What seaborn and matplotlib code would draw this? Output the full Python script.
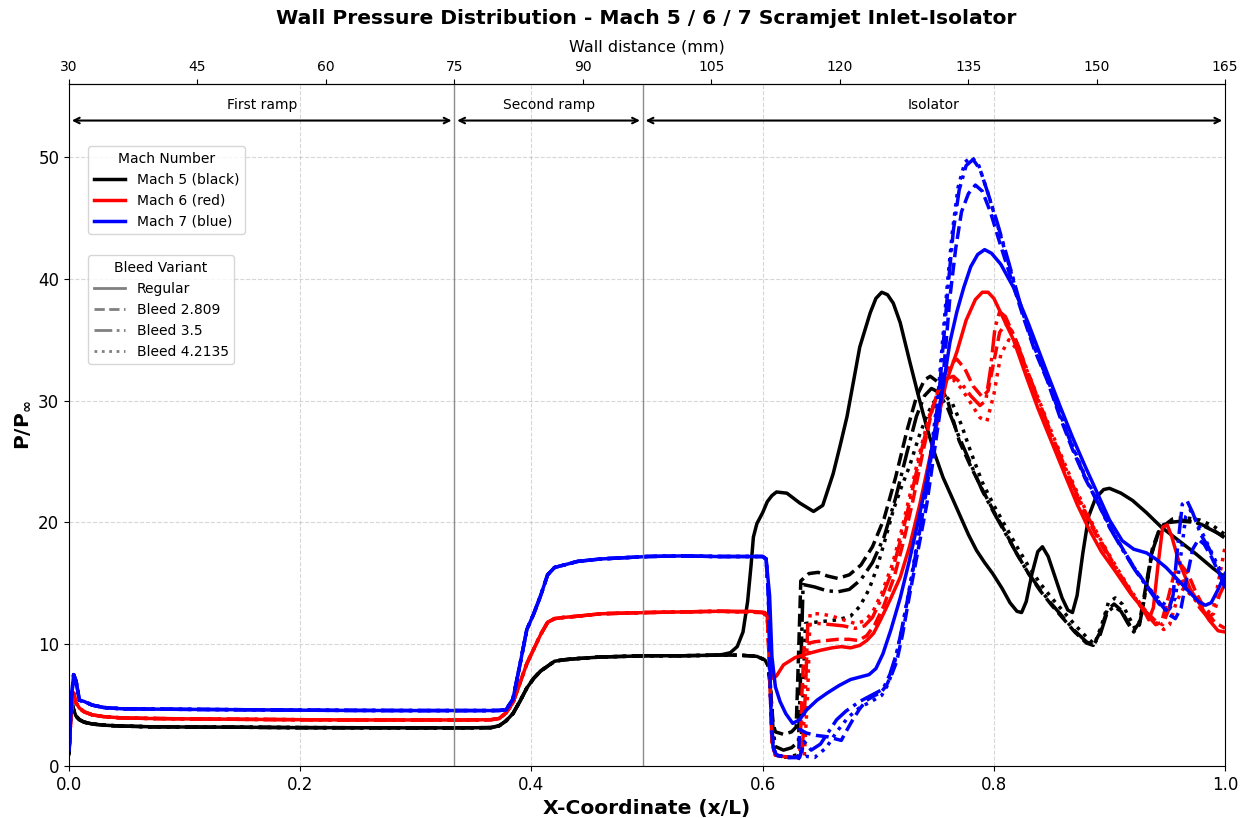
import matplotlib
matplotlib.use("Agg")
import matplotlib.pyplot as plt
import numpy as np
import pandas as pd
import seaborn as sns
from matplotlib.lines import Line2D

# ---------------------------------------------------------------------------
# Labels
# ---------------------------------------------------------------------------
mach_labels = ["Mach 5 (black)", "Mach 6 (red)", "Mach 7 (blue)"]
mach_colors = ["black", "red", "blue"]
variant_labels = ["Regular", "Bleed 2.809", "Bleed 3.5", "Bleed 4.2135"]
top_ticks_mm = [30, 45, 60, 75, 90, 105, 120, 135, 150, 165]
section_names = ["First ramp", "Second ramp", "Isolator"]
section_edges_mm = [30, 75, 97, 165]

# ---------------------------------------------------------------------------
# Inlet ramps (identical for every bleed variant)
# ---------------------------------------------------------------------------
x_ramp = [0.0, 0.002, 0.004, 0.006, 0.009, 0.013, 0.02, 0.03, 0.045, 0.07,
          0.1, 0.15, 0.2, 0.25, 0.3, 0.34, 0.365, 0.372, 0.378, 0.384,
          0.39, 0.396, 0.402, 0.408, 0.414, 0.42, 0.428, 0.44, 0.46, 0.48,
          0.5, 0.53, 0.56]
p_ramp_m5 = [1.0, 5.5, 4.6, 4.1, 3.8, 3.6, 3.45, 3.35, 3.28, 3.22,
             3.2, 3.18, 3.15, 3.14, 3.13, 3.13, 3.15, 3.3, 3.7, 4.3,
             5.3, 6.4, 7.2, 7.8, 8.2, 8.6, 8.72, 8.82, 8.95, 9.0,
             9.05, 9.05, 9.1]
p_ramp_m6 = [1.5, 4.5, 6.0, 5.2, 4.75, 4.45, 4.2, 4.05, 3.95, 3.9,
             3.87, 3.83, 3.8, 3.78, 3.78, 3.78, 3.8, 3.9, 4.35, 5.2,
             6.8, 8.4, 9.6, 10.8, 11.8, 12.1, 12.2, 12.3, 12.5, 12.55,
             12.6, 12.65, 12.7]
p_ramp_m7 = [1.3, 5.5, 7.5, 7.0, 5.4, 5.3, 5.0, 4.8, 4.7, 4.67,
             4.65, 4.62, 4.58, 4.56, 4.55, 4.55, 4.55, 4.56, 4.6, 5.5,
             8.3, 11.2, 12.5, 14.0, 15.7, 16.3, 16.5, 16.8, 17.0, 17.1,
             17.2, 17.25, 17.2]

# ---------------------------------------------------------------------------
# Isolator section - Mach 5
# ---------------------------------------------------------------------------
x_m5_regular = [0.565, 0.572, 0.578, 0.583, 0.587, 0.59, 0.592, 0.595, 0.6, 0.604,
                0.608, 0.612, 0.621, 0.632, 0.644, 0.652, 0.661, 0.667, 0.673, 0.679,
                0.684, 0.693, 0.698, 0.703, 0.708, 0.713, 0.719, 0.727, 0.735, 0.742,
                0.749, 0.756, 0.764, 0.771, 0.778, 0.785, 0.792, 0.799, 0.807, 0.814,
                0.82, 0.824, 0.828, 0.833, 0.838, 0.842, 0.847, 0.853, 0.859, 0.864,
                0.868, 0.872, 0.877, 0.882, 0.888, 0.895, 0.9, 0.91, 0.92, 0.932,
                0.945, 0.96, 0.975, 0.99, 1.0]
p_m5_regular = [9.15, 9.3, 9.8, 11.0, 13.5, 16.5, 18.8, 19.9, 20.8, 21.7,
                22.2, 22.5, 22.4, 21.6, 20.9, 21.4, 24.0, 26.3, 28.7, 31.8,
                34.4, 37.2, 38.4, 38.9, 38.7, 38.0, 36.4, 33.3, 30.3, 27.8,
                25.6, 23.7, 22.0, 20.5, 19.0, 17.7, 16.7, 15.8, 14.6, 13.4,
                12.7, 12.6, 13.5, 15.8, 17.6, 18.0, 17.2, 15.5, 13.8, 12.8,
                12.6, 14.0, 17.5, 20.5, 22.0, 22.7, 22.8, 22.4, 21.8, 20.8,
                19.6, 18.5, 17.4, 16.2, 15.5]

x_m5_b2809 = [0.565, 0.58, 0.595, 0.602, 0.605, 0.607, 0.609, 0.611, 0.618, 0.625,
              0.629, 0.631, 0.633, 0.64, 0.648, 0.656, 0.665, 0.675, 0.685, 0.695,
              0.705, 0.715, 0.725, 0.733, 0.74, 0.745, 0.752, 0.76, 0.77, 0.78,
              0.79, 0.8, 0.81, 0.82, 0.83, 0.84, 0.85, 0.86, 0.87, 0.88,
              0.886, 0.892, 0.898, 0.904, 0.91, 0.916, 0.921, 0.926, 0.931, 0.937,
              0.943, 0.952, 0.962, 0.975, 0.988, 1.0]
p_m5_b2809 = [9.1, 9.1, 9.0, 8.7, 8.2, 6.0, 3.5, 2.8, 2.6, 2.8,
              3.2, 9.0, 15.2, 15.8, 15.9, 15.6, 15.4, 15.7, 16.5, 18.0,
              20.3, 23.7, 27.6, 30.3, 31.7, 32.0, 31.5, 30.0, 26.7, 24.6,
              22.7, 20.9, 19.2, 17.4, 15.8, 14.4, 13.2, 12.1, 11.0, 10.1,
              9.9, 11.0, 12.8, 13.3, 12.8, 11.8, 11.1, 11.8, 14.5, 17.8,
              19.4, 20.1, 20.2, 20.0, 19.5, 18.7]

x_m5_b35 = [0.565, 0.58, 0.595, 0.602, 0.605, 0.607, 0.609, 0.611, 0.618, 0.625,
            0.631, 0.633, 0.635, 0.645, 0.655, 0.665, 0.675, 0.685, 0.695, 0.705,
            0.715, 0.725, 0.733, 0.74, 0.746, 0.752, 0.76, 0.77, 0.78, 0.79,
            0.8, 0.81, 0.82, 0.83, 0.84, 0.85, 0.86, 0.87, 0.88, 0.886,
            0.892, 0.898, 0.904, 0.91, 0.916, 0.921, 0.926, 0.931, 0.937, 0.943,
            0.952, 0.962, 0.975, 0.988, 1.0]
p_m5_b35 = [9.1, 9.1, 9.0, 8.7, 8.2, 6.0, 3.0, 1.6, 1.3, 1.5,
            2.0, 8.0, 14.9, 14.7, 14.4, 14.3, 14.5, 15.3, 16.7, 18.8,
            22.0, 25.8, 28.7, 30.4, 31.0, 30.7, 29.4, 27.0, 24.8, 22.6,
            20.8, 19.1, 17.4, 15.8, 14.5, 13.3, 12.2, 11.1, 10.2, 9.9,
            10.8, 12.6, 13.1, 12.7, 11.7, 11.0, 11.6, 14.2, 17.6, 19.3,
            20.0, 20.1, 20.0, 19.4, 18.8]

x_m5_b42135 = [0.565, 0.58, 0.595, 0.602, 0.605, 0.607, 0.609, 0.611, 0.618, 0.625,
               0.633, 0.635, 0.637, 0.645, 0.655, 0.665, 0.676, 0.684, 0.692, 0.699,
               0.706, 0.713, 0.72, 0.727, 0.735, 0.743, 0.75, 0.757, 0.764, 0.772,
               0.78, 0.79, 0.8, 0.81, 0.82, 0.83, 0.84, 0.85, 0.86, 0.87,
               0.88, 0.887, 0.893, 0.899, 0.905, 0.911, 0.917, 0.922, 0.927, 0.932,
               0.938, 0.945, 0.955, 0.965, 0.978, 0.99, 1.0]
p_m5_b42135 = [9.1, 9.1, 9.0, 8.7, 8.2, 6.0, 2.5, 0.9, 0.7, 0.8,
               1.0, 6.0, 11.7, 11.8, 11.9, 12.0, 12.3, 13.1, 14.5, 16.3,
               18.6, 21.0, 22.9, 24.6, 27.0, 29.0, 30.2, 30.5, 29.8, 28.0,
               25.8, 23.3, 21.4, 19.7, 18.0, 16.4, 15.0, 13.8, 12.7, 11.6,
               10.6, 10.0, 11.5, 13.4, 13.8, 13.3, 12.2, 11.3, 12.0, 14.8,
               18.0, 19.7, 20.3, 20.4, 20.2, 19.7, 19.0]

# ---------------------------------------------------------------------------
# Isolator section - Mach 6
# ---------------------------------------------------------------------------
x_m6_regular = [0.565, 0.59, 0.602, 0.605, 0.607, 0.609, 0.612, 0.618, 0.628, 0.638,
                0.65, 0.66, 0.668, 0.676, 0.684, 0.69, 0.696, 0.702, 0.71, 0.719,
                0.727, 0.736, 0.745, 0.751, 0.759, 0.768, 0.776, 0.784, 0.79, 0.795,
                0.8, 0.808, 0.817, 0.828, 0.838, 0.85, 0.862, 0.872, 0.882, 0.893,
                0.905, 0.918, 0.929, 0.934, 0.938, 0.942, 0.946, 0.95, 0.954, 0.96,
                0.97, 0.978, 0.986, 0.994, 1.0]
p_m6_regular = [12.7, 12.7, 12.6, 12.2, 9.0, 7.2, 7.4, 8.3, 8.9, 9.2,
                9.5, 9.7, 9.8, 9.7, 9.9, 10.3, 10.9, 12.0, 13.6, 15.5,
                18.0, 21.5, 25.5, 28.2, 31.6, 34.0, 36.6, 38.3, 38.9, 38.9,
                38.4, 36.8, 35.0, 32.0, 29.4, 26.6, 23.8, 21.5, 19.5, 17.6,
                16.0, 14.2, 12.9, 12.0, 13.0, 16.5, 19.6, 19.8, 18.8, 16.8,
                14.5, 13.3, 12.0, 11.1, 11.0]

x_m6_b2809 = [0.565, 0.6, 0.604, 0.606, 0.608, 0.611, 0.62, 0.628, 0.632, 0.634,
              0.636, 0.645, 0.655, 0.665, 0.675, 0.683, 0.69, 0.697, 0.705, 0.714,
              0.722, 0.73, 0.738, 0.746, 0.754, 0.762, 0.768, 0.775, 0.782, 0.79,
              0.795, 0.8, 0.805, 0.81, 0.815, 0.822, 0.83, 0.84, 0.85, 0.86,
              0.87, 0.88, 0.89, 0.9, 0.91, 0.92, 0.93, 0.94, 0.945, 0.95,
              0.956, 0.962, 0.968, 0.975, 0.983, 0.991, 1.0]
p_m6_b2809 = [12.7, 12.6, 12.3, 8.0, 2.0, 0.9, 0.75, 0.7, 0.8, 6.0,
              10.0, 10.2, 10.3, 10.4, 10.4, 10.3, 10.7, 11.6, 13.2, 15.6,
              18.5, 21.8, 25.5, 29.0, 31.5, 33.0, 33.4, 32.6, 31.2, 30.3,
              30.8, 33.2, 35.6, 36.3, 35.8, 34.3, 32.0, 29.5, 27.0, 24.7,
              22.5, 20.5, 18.7, 17.0, 15.5, 14.0, 12.7, 11.6, 11.8, 13.5,
              15.8, 16.5, 15.8, 14.2, 12.8, 11.8, 11.3]

x_m6_b35 = [0.565, 0.6, 0.604, 0.606, 0.608, 0.611, 0.62, 0.628, 0.634, 0.637,
            0.639, 0.648, 0.66, 0.67, 0.68, 0.688, 0.695, 0.703, 0.712, 0.72,
            0.728, 0.736, 0.744, 0.752, 0.759, 0.765, 0.772, 0.78, 0.788, 0.793,
            0.797, 0.801, 0.805, 0.81, 0.818, 0.83, 0.84, 0.85, 0.86, 0.87,
            0.88, 0.89, 0.9, 0.91, 0.92, 0.93, 0.94, 0.946, 0.951, 0.957,
            0.964, 0.971, 0.978, 0.985, 0.99, 0.995, 1.0]
p_m6_b35 = [12.7, 12.6, 12.3, 8.0, 2.0, 0.9, 0.75, 0.7, 0.8, 6.0,
            11.6, 11.7, 11.6, 11.5, 11.3, 11.5, 12.2, 13.8, 16.0, 18.8,
            22.0, 25.4, 28.5, 30.8, 31.8, 32.0, 31.4, 30.4, 29.6, 30.0,
            32.5, 36.0, 37.3, 36.9, 35.2, 32.2, 29.7, 27.2, 24.9, 22.7,
            20.7, 18.9, 17.2, 15.6, 14.1, 12.8, 11.9, 11.6, 12.8, 14.8,
            15.2, 14.2, 13.0, 12.2, 12.5, 14.0, 15.0]

x_m6_b42135 = [0.565, 0.6, 0.604, 0.606, 0.608, 0.611, 0.62, 0.628, 0.636, 0.639,
               0.641, 0.65, 0.66, 0.67, 0.68, 0.688, 0.695, 0.703, 0.712, 0.72,
               0.728, 0.736, 0.744, 0.752, 0.759, 0.765, 0.772, 0.78, 0.788, 0.794,
               0.8, 0.806, 0.813, 0.82, 0.83, 0.84, 0.85, 0.86, 0.87, 0.88,
               0.89, 0.9, 0.91, 0.92, 0.93, 0.94, 0.947, 0.952, 0.958, 0.964,
               0.971, 0.978, 0.985, 0.99, 0.995, 1.0]
p_m6_b42135 = [12.7, 12.6, 12.3, 8.0, 2.0, 0.9, 0.75, 0.7, 0.8, 6.0,
               12.5, 12.5, 12.3, 12.0, 11.7, 11.9, 12.6, 14.2, 16.5, 19.3,
               22.5, 25.8, 28.7, 30.8, 31.6, 31.7, 31.0, 29.8, 28.6, 28.3,
               30.5, 33.8, 35.0, 34.2, 32.2, 29.8, 27.4, 25.1, 22.9, 20.9,
               19.0, 17.3, 15.7, 14.2, 12.9, 11.8, 11.2, 11.6, 13.5, 14.6,
               14.0, 13.2, 12.6, 13.0, 15.5, 18.0]

# ---------------------------------------------------------------------------
# Isolator section - Mach 7
# ---------------------------------------------------------------------------
x_m7_regular = [0.565, 0.6, 0.603, 0.606, 0.608, 0.611, 0.615, 0.62, 0.626, 0.632,
                0.638, 0.647, 0.656, 0.666, 0.676, 0.684, 0.692, 0.698, 0.704, 0.711,
                0.719, 0.727, 0.735, 0.742, 0.749, 0.756, 0.762, 0.768, 0.774, 0.78,
                0.786, 0.792, 0.798, 0.806, 0.817, 0.83, 0.846, 0.857, 0.868, 0.879,
                0.89, 0.9, 0.911, 0.921, 0.932, 0.94, 0.949, 0.959, 0.969, 0.977,
                0.983, 0.988, 0.994, 1.0]
p_m7_regular = [17.2, 17.2, 17.0, 14.0, 9.0, 6.5, 5.3, 4.3, 3.5, 3.8,
                4.6, 5.4, 6.0, 6.6, 7.1, 7.3, 7.5, 8.0, 9.2, 11.2,
                13.8, 16.9, 20.3, 23.5, 27.6, 31.1, 34.8, 37.3, 39.3, 41.0,
                42.0, 42.4, 42.1, 41.2, 39.3, 36.3, 32.3, 29.6, 27.0, 24.6,
                22.3, 20.2, 18.5, 17.8, 17.5, 17.0, 16.3, 15.3, 14.3, 13.5,
                13.2, 13.4, 14.5, 15.8]

x_m7_b2809 = [0.565, 0.6, 0.603, 0.605, 0.607, 0.609, 0.612, 0.62, 0.628, 0.631,
              0.632, 0.638, 0.647, 0.656, 0.664, 0.668, 0.672, 0.678, 0.684, 0.69,
              0.697, 0.702, 0.707, 0.712, 0.716, 0.721, 0.727, 0.734, 0.742, 0.748,
              0.753, 0.758, 0.762, 0.767, 0.772, 0.778, 0.784, 0.79, 0.797, 0.805,
              0.815, 0.825, 0.835, 0.846, 0.857, 0.868, 0.879, 0.89, 0.9, 0.911,
              0.922, 0.934, 0.945, 0.952, 0.957, 0.962, 0.967, 0.972, 0.977, 0.982,
              0.988, 0.994, 1.0]
p_m7_b2809 = [17.2, 17.2, 17.0, 14.0, 5.0, 1.5, 0.9, 0.7, 0.7, 0.8,
              3.0, 2.7, 2.5, 2.4, 2.2, 2.1, 2.8, 3.8, 4.7, 5.4,
              5.8, 6.0, 6.6, 7.6, 8.6, 10.8, 14.0, 17.5, 21.5, 25.5,
              28.8, 34.0, 38.5, 42.5, 45.5, 47.0, 47.7, 47.2, 45.5, 43.0,
              40.0, 37.0, 34.2, 31.7, 28.7, 26.0, 23.6, 21.6, 19.7, 17.9,
              16.2, 14.6, 13.2, 12.4, 12.1, 13.0, 15.5, 17.8, 18.6, 18.2,
              17.2, 16.0, 15.0]

x_m7_b35 = [0.565, 0.6, 0.603, 0.605, 0.607, 0.609, 0.612, 0.62, 0.628, 0.632,
            0.636, 0.642, 0.65, 0.657, 0.664, 0.672, 0.684, 0.694, 0.704, 0.71,
            0.716, 0.722, 0.728, 0.735, 0.742, 0.748, 0.753, 0.757, 0.761, 0.765,
            0.77, 0.776, 0.782, 0.788, 0.795, 0.803, 0.813, 0.823, 0.835, 0.846,
            0.857, 0.868, 0.879, 0.89, 0.9, 0.911, 0.922, 0.934, 0.943, 0.951,
            0.955, 0.959, 0.963, 0.967, 0.972, 0.979, 0.986, 0.993, 1.0]
p_m7_b35 = [17.2, 17.2, 17.0, 14.0, 5.0, 1.5, 0.9, 0.7, 0.7, 0.7,
            2.0, 1.3, 1.8, 2.8, 3.8, 4.5, 5.3, 5.8, 6.3, 7.5,
            9.3, 12.0, 15.0, 18.8, 22.8, 27.0, 31.0, 35.5, 40.0, 44.0,
            47.3, 49.3, 49.8, 49.0, 47.0, 44.6, 41.3, 37.9, 34.4, 31.8,
            28.9, 26.2, 23.7, 21.6, 19.6, 17.8, 16.1, 14.5, 13.3, 12.7,
            14.0, 18.0, 21.5, 21.8, 20.8, 19.0, 17.9, 16.3, 14.6]

x_m7_b42135 = [0.565, 0.6, 0.603, 0.605, 0.607, 0.609, 0.612, 0.62, 0.628, 0.633,
               0.637, 0.645, 0.655, 0.664, 0.674, 0.684, 0.694, 0.703, 0.709, 0.715,
               0.721, 0.727, 0.734, 0.741, 0.747, 0.752, 0.756, 0.76, 0.764, 0.769,
               0.775, 0.781, 0.787, 0.794, 0.802, 0.812, 0.822, 0.834, 0.846, 0.857,
               0.868, 0.879, 0.89, 0.9, 0.911, 0.922, 0.934, 0.945, 0.952, 0.957,
               0.962, 0.966, 0.97, 0.976, 0.983, 0.99, 0.995, 1.0]
p_m7_b42135 = [17.2, 17.2, 17.0, 14.0, 5.0, 1.5, 0.9, 0.7, 0.7, 0.6,
               0.8, 0.7, 1.5, 2.8, 4.0, 4.8, 5.3, 5.8, 6.8, 8.8,
               11.5, 14.6, 18.5, 22.5, 26.8, 30.8, 35.3, 39.8, 43.8, 47.5,
               49.6, 50.0, 49.3, 47.3, 44.8, 41.5, 38.1, 34.6, 31.9, 29.0,
               26.3, 23.8, 21.7, 19.7, 17.9, 16.2, 14.6, 13.5, 12.9, 13.8,
               17.5, 20.5, 21.0, 20.0, 18.6, 17.2, 16.2, 16.5]

isolator = {
    (0, 0): (x_m5_regular, p_m5_regular), (0, 1): (x_m5_b2809, p_m5_b2809),
    (0, 2): (x_m5_b35, p_m5_b35), (0, 3): (x_m5_b42135, p_m5_b42135),
    (1, 0): (x_m6_regular, p_m6_regular), (1, 1): (x_m6_b2809, p_m6_b2809),
    (1, 2): (x_m6_b35, p_m6_b35), (1, 3): (x_m6_b42135, p_m6_b42135),
    (2, 0): (x_m7_regular, p_m7_regular), (2, 1): (x_m7_b2809, p_m7_b2809),
    (2, 2): (x_m7_b35, p_m7_b35), (2, 3): (x_m7_b42135, p_m7_b42135),
}
ramps = [p_ramp_m5, p_ramp_m6, p_ramp_m7]

# Long-format table: one row per sample, keyed by Mach number and variant
frames = []
for (mi, vi), (xs, ps) in isolator.items():
    frames.append(pd.DataFrame({
        "x": list(x_ramp) + list(xs),
        "p": list(ramps[mi]) + list(ps),
        "mach": mach_labels[mi],
        "variant": variant_labels[vi],
    }))
df = pd.concat(frames, ignore_index=True)

# ---------------------------------------------------------------------------
# Figure
# ---------------------------------------------------------------------------
plt.rcParams["font.family"] = ["DejaVu Sans"]
fig = plt.figure(figsize=(12.46, 8.18), dpi=100)
ax = fig.add_axes([0.0554, 0.0636, 0.9278, 0.8337])

dash_styles = {
    "Regular": "",
    "Bleed 2.809": (3.7, 1.6),
    "Bleed 3.5": (6.4, 1.6, 1.0, 1.6),
    "Bleed 4.2135": (1.0, 1.65),
}
sns.lineplot(data=df, x="x", y="p", hue="mach", style="variant",
             hue_order=mach_labels, style_order=variant_labels,
             palette=dict(zip(mach_labels, mach_colors)), dashes=dash_styles,
             estimator=None, sort=False, linewidth=2.5, legend=False, ax=ax)

ax.set_xlim(0, 1.0)
ax.set_ylim(0, 56)
ax.set_xticks([0.0, 0.2, 0.4, 0.6, 0.8, 1.0])
ax.set_yticks([0, 10, 20, 30, 40, 50])
ax.tick_params(labelsize=12)
ax.grid(True, linestyle="--", color="#b0b0b0", alpha=0.5, linewidth=0.8)
ax.set_xlabel("X-Coordinate (x/L)", fontsize=14.6, fontweight="bold")
ax.set_ylabel(r"$\mathbf{P/P_\infty}$", fontsize=14.6)
# Title centred over the plotting area
fig.text(0.519, 0.977,
         "Wall Pressure Distribution - Mach 5 / 6 / 7 Scramjet Inlet-Isolator",
         ha="center", va="center", fontsize=14.6, fontweight="bold")


def mm_to_x(mm):
    return (np.asarray(mm, dtype=float) - 30.0) / 135.0


def x_to_mm(x):
    return 30.0 + 135.0 * np.asarray(x, dtype=float)


top = ax.secondary_xaxis("top", functions=(x_to_mm, mm_to_x))
top.set_xticks(top_ticks_mm)
top.tick_params(labelsize=10)
top.set_xlabel("Wall distance (mm)", fontsize=11.5, labelpad=6)

# Section boundaries, spans and names
for mm in section_edges_mm[1:-1]:
    ax.axvline(float(mm_to_x(mm)), color="gray", linewidth=1.0, alpha=0.9)
for name, a, b in zip(section_names, section_edges_mm[:-1], section_edges_mm[1:]):
    xa, xb = float(mm_to_x(a)), float(mm_to_x(b))
    ax.annotate("", xy=(xa, 53.0), xytext=(xb, 53.0),
                arrowprops=dict(arrowstyle="<->", color="black", lw=1.5,
                                shrinkA=2, shrinkB=2))
    ax.text((xa + xb) / 2, 54.3, name, ha="center", va="center", fontsize=10)

# Legends: colour encodes Mach number, dash pattern encodes bleed variant
mach_handles = [Line2D([], [], color=c, lw=2.5) for c in mach_colors]
leg1 = ax.legend(mach_handles, mach_labels, title="Mach Number", loc="upper left",
                 bbox_to_anchor=(0.0164, 0.909), borderaxespad=0, fontsize=10,
                 title_fontsize=10, handlelength=2.3)
ax.add_artist(leg1)
variant_handles = [Line2D([], [], color="gray", lw=2.0,
                          linestyle=("-" if d == "" else (0, d)))
                   for d in dash_styles.values()]
ax.legend(variant_handles, variant_labels, title="Bleed Variant", loc="upper left",
          bbox_to_anchor=(0.0164, 0.749), borderaxespad=0, fontsize=10,
          title_fontsize=10, handlelength=2.3)

fig.savefig("out.png", dpi=100)
